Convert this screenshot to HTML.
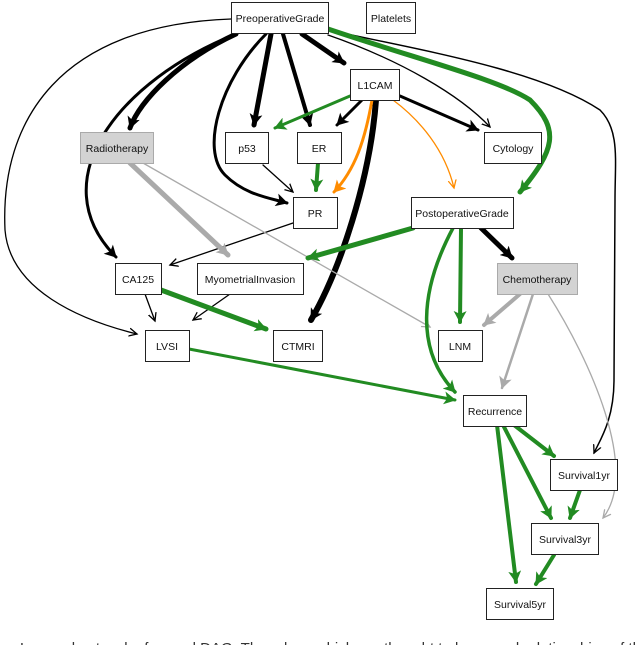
<!DOCTYPE html>
<html><head><meta charset="utf-8"><style>
html,body{margin:0;padding:0;background:#fff;width:640px;height:645px;overflow:hidden}
svg{position:absolute;left:0;top:0}
text{font-family:"Liberation Sans",sans-serif;font-size:10.5px;fill:#111}
</style></head><body>
<svg width="640" height="645" viewBox="0 0 640 645">
<defs>
<marker id="kb" markerUnits="userSpaceOnUse" markerWidth="13" markerHeight="13" refX="11" refY="6.5" orient="auto"><path d="M0,0 L12,6.5 L0,13 L3,6.5 Z" fill="#000"/></marker>
<marker id="kt" markerUnits="userSpaceOnUse" markerWidth="10" markerHeight="10" refX="8" refY="5" orient="auto"><path d="M0,1 L8,5 L0,9" fill="none" stroke="#000" stroke-width="1.3"/></marker>
<marker id="gb" markerUnits="userSpaceOnUse" markerWidth="13" markerHeight="13" refX="11" refY="6.5" orient="auto"><path d="M0,0 L12,6.5 L0,13 L3,6.5 Z" fill="#228B22"/></marker>
<marker id="yb" markerUnits="userSpaceOnUse" markerWidth="13" markerHeight="13" refX="11" refY="6.5" orient="auto"><path d="M0,0 L12,6.5 L0,13 L3,6.5 Z" fill="#aaa"/></marker>
<marker id="yt" markerUnits="userSpaceOnUse" markerWidth="10" markerHeight="10" refX="8" refY="5" orient="auto"><path d="M0,1 L8,5 L0,9" fill="none" stroke="#aaa" stroke-width="1.3"/></marker>
<marker id="ob" markerUnits="userSpaceOnUse" markerWidth="13" markerHeight="13" refX="11" refY="6.5" orient="auto"><path d="M0,0 L12,6.5 L0,13 L3,6.5 Z" fill="#FF8C00"/></marker>
<marker id="ot" markerUnits="userSpaceOnUse" markerWidth="10" markerHeight="10" refX="8" refY="5" orient="auto"><path d="M0,1 L8,5 L0,9" fill="none" stroke="#FF8C00" stroke-width="1.3"/></marker>
</defs>
<g fill="none" stroke-linecap="round">
<path d="M236,34 C180,60 140,100 130,128" stroke="#000" stroke-width="5" marker-end="url(#kb)"/>
<path d="M236,34 C120,80 40,180 116,257" stroke="#000" stroke-width="3" marker-end="url(#kb)"/>
<path d="M231,19 C60,25 0,120 5,230 C10,290 80,320 137,334" stroke="#000" stroke-width="1.3" marker-end="url(#kt)"/>
<path d="M266,34 C220,80 200,150 225,175 C245,195 270,198 287,203" stroke="#000" stroke-width="3" marker-end="url(#kb)"/>
<path d="M271,34 L254,125" stroke="#000" stroke-width="5" marker-end="url(#kb)"/>
<path d="M283,34 L310,125" stroke="#000" stroke-width="4" marker-end="url(#kb)"/>
<path d="M302,34 L344,63" stroke="#000" stroke-width="5" marker-end="url(#kb)"/>
<path d="M328,35 C400,60 460,95 490,127" stroke="#000" stroke-width="1.3" marker-end="url(#kt)"/>
<path d="M328,30 C420,50 540,70 600,110 C620,130 615,160 615,200 L614,380 C614,420 600,440 594,453" stroke="#000" stroke-width="1.5" marker-end="url(#kt)"/>
<path d="M362,100 L337,125" stroke="#000" stroke-width="3" marker-end="url(#kb)"/>
<path d="M376,100 C370,180 340,270 311,320" stroke="#000" stroke-width="6" marker-end="url(#kb)"/>
<path d="M400,96 L478,130" stroke="#000" stroke-width="3" marker-end="url(#kb)"/>
<path d="M263,165 L293,192" stroke="#000" stroke-width="1.3" marker-end="url(#kt)"/>
<path d="M293,223 L170,265" stroke="#000" stroke-width="1.3" marker-end="url(#kt)"/>
<path d="M481,228 L512,258" stroke="#000" stroke-width="5" marker-end="url(#kb)"/>
<path d="M145,294 L155,321" stroke="#000" stroke-width="1.3" marker-end="url(#kt)"/>
<path d="M230,294 L193,320" stroke="#000" stroke-width="1.3" marker-end="url(#kt)"/>
<path d="M372,100 C365,140 355,170 334,192" stroke="#FF8C00" stroke-width="3" marker-end="url(#ob)"/>
<path d="M393,100 C420,120 445,150 454,188" stroke="#FF8C00" stroke-width="1.3" marker-end="url(#ot)"/>
<path d="M130,163 L228,255" stroke="#aaa" stroke-width="5" marker-end="url(#yb)"/>
<path d="M143,163 L430,327" stroke="#aaa" stroke-width="1.3" marker-end="url(#yt)"/>
<path d="M520,294 L484,325" stroke="#aaa" stroke-width="4" marker-end="url(#yb)"/>
<path d="M533,294 L502,388" stroke="#aaa" stroke-width="2.5" marker-end="url(#yb)"/>
<path d="M548,294 C590,360 640,470 603,518" stroke="#aaa" stroke-width="1.3" marker-end="url(#yt)"/>
<path d="M328,29 C420,60 500,80 530,100 C560,130 555,150 520,192" stroke="#228B22" stroke-width="5" marker-end="url(#gb)"/>
<path d="M350,96 L275,128" stroke="#228B22" stroke-width="3" marker-end="url(#gb)"/>
<path d="M318,163 L316,190" stroke="#228B22" stroke-width="4" marker-end="url(#gb)"/>
<path d="M413,228 L308,258" stroke="#228B22" stroke-width="5" marker-end="url(#gb)"/>
<path d="M453,228 C420,290 415,350 455,392" stroke="#228B22" stroke-width="3.5" marker-end="url(#gb)"/>
<path d="M461,228 L460,322" stroke="#228B22" stroke-width="4" marker-end="url(#gb)"/>
<path d="M161,290 L266,329" stroke="#228B22" stroke-width="5" marker-end="url(#gb)"/>
<path d="M189,349 L455,400" stroke="#228B22" stroke-width="3" marker-end="url(#gb)"/>
<path d="M514,425 L554,456" stroke="#228B22" stroke-width="4" marker-end="url(#gb)"/>
<path d="M503,425 L551,518" stroke="#228B22" stroke-width="4" marker-end="url(#gb)"/>
<path d="M497,425 L516,582" stroke="#228B22" stroke-width="4" marker-end="url(#gb)"/>
<path d="M580,490 L570,518" stroke="#228B22" stroke-width="4" marker-end="url(#gb)"/>
<path d="M554,555 L536,584" stroke="#228B22" stroke-width="4" marker-end="url(#gb)"/>
</g>
<g stroke="#222" stroke-width="1" fill="#fff">
<rect x="231.5" y="2.5" width="97" height="31"/>
<rect x="366.5" y="2.5" width="49" height="31"/>
<rect x="350.5" y="69.5" width="49" height="31"/>
<rect x="80.5" y="132.5" width="73" height="31" fill="#d3d3d3" stroke="#aaa"/>
<rect x="225.5" y="132.5" width="43" height="31"/>
<rect x="297.5" y="132.5" width="44" height="31"/>
<rect x="484.5" y="132.5" width="57" height="31"/>
<rect x="293.5" y="197.5" width="44" height="31"/>
<rect x="411.5" y="197.5" width="102" height="31"/>
<rect x="115.5" y="263.5" width="46" height="31"/>
<rect x="197.5" y="263.5" width="106" height="31"/>
<rect x="497.5" y="263.5" width="80" height="31" fill="#d3d3d3" stroke="#aaa"/>
<rect x="145.5" y="330.5" width="44" height="31"/>
<rect x="273.5" y="330.5" width="49" height="31"/>
<rect x="438.5" y="330.5" width="44" height="31"/>
<rect x="463.5" y="395.5" width="63" height="31"/>
<rect x="550.5" y="459.5" width="67" height="31"/>
<rect x="531.5" y="523.5" width="67" height="31"/>
<rect x="486.5" y="588.5" width="67" height="31"/>
</g>
<g text-anchor="middle">
<text x="280" y="22">PreoperativeGrade</text>
<text x="391" y="22">Platelets</text>
<text x="375" y="89">L1CAM</text>
<text x="117" y="152">Radiotherapy</text>
<text x="247" y="152">p53</text>
<text x="319" y="152">ER</text>
<text x="513" y="152">Cytology</text>
<text x="315" y="217">PR</text>
<text x="462" y="217">PostoperativeGrade</text>
<text x="138" y="283">CA125</text>
<text x="250" y="283">MyometrialInvasion</text>
<text x="537" y="283">Chemotherapy</text>
<text x="167" y="350">LVSI</text>
<text x="298" y="350">CTMRI</text>
<text x="460" y="350">LNM</text>
<text x="495" y="415">Recurrence</text>
<text x="584" y="479">Survival1yr</text>
<text x="565" y="543">Survival3yr</text>
<text x="520" y="608">Survival5yr</text>
</g>
<text x="20" y="653" style="font-family:'Liberation Sans',sans-serif;font-size:15px;fill:#333">Learned network of causal DAG. The edges which are thought to be causal relationships of the</text>
</svg>
</body></html>
